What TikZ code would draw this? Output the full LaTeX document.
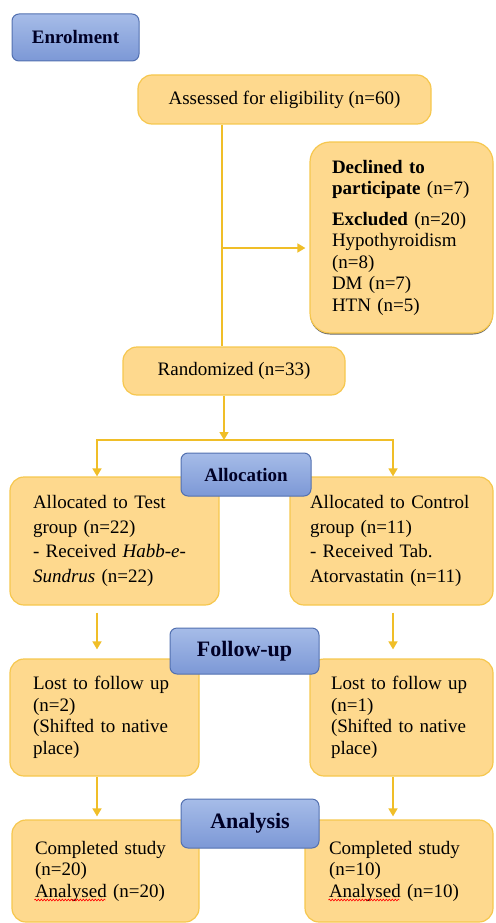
\documentclass[tikz,border=0pt]{standalone}
\usepackage{fontspec}
\setmainfont{Liberation Serif}
\usepackage{xcolor}
\usetikzlibrary{arrows.meta,shadows,decorations.pathmorphing}

\definecolor{boxfill}{RGB}{254,217,142}
\definecolor{boxline}{RGB}{246,199,78}
\definecolor{linkgold}{RGB}{240,190,40}
\definecolor{stagetop}{RGB}{166,188,232}
\definecolor{stagebot}{RGB}{124,152,214}
\definecolor{stageline}{RGB}{82,112,176}

\begin{document}
\begin{tikzpicture}[x=1pt, y=-1pt,
    panel/.style={draw=boxline, line width=1.2pt, fill=boxfill, rounded corners=14pt,
      font=\fontsize{19}{21.5}\selectfont, align=left},
    stage/.style={draw=stageline, line width=1pt, top color=stagetop, bottom color=stagebot,
      rounded corners=7pt, font=\bfseries\fontsize{19}{22}\selectfont, text=black!85!blue},
    link/.style={draw=linkgold, line width=1.5pt},
    arrow/.style={link, -{Triangle[width=9pt,length=8pt]}},
    spell/.style={draw=red, line width=0.6pt, decorate,
      decoration={snake, amplitude=0.9pt, segment length=3pt}}]
    \useasboundingbox (0, 0) rectangle (495, 923);

    % enrolment
    \node[panel, minimum width=293pt, minimum height=49pt](assess) at (284.5, 99.5)
      {Assessed for eligibility (n=60)};
    \node[panel, rounded corners=20pt, text width=139pt, inner xsep=22pt, minimum height=191pt,
      drop shadow={shadow xshift=0pt, shadow yshift=-1.5pt, fill=black!75, opacity=0.8}](excl)
      at (401.5, 237.5)
      {\textbf{Declined to}\\ \textbf{participate} (n=7)\\[9pt]
       \textbf{Excluded} (n=20)\\ Hypothyroidism\\ (n=8)\\ DM (n=7)\\ HTN (n=5)};
    \node[panel, minimum width=222pt, minimum height=48pt](rand) at (234, 371)
      {Randomized (n=33)};

    % allocation
    \node[panel, text width=163pt, inner xsep=23pt, minimum height=128pt,
      font=\fontsize{19}{24.5}\selectfont](testgrp) at (114.5, 541)
      {Allocated to Test\\ group (n=22)\\ - Received \textit{Habb-e-}\\ \textit{Sundrus} (n=22)};
    \node[panel, text width=163pt, inner xsep=20pt, minimum height=128pt,
      font=\fontsize{19}{24.5}\selectfont](ctrlgrp) at (391.5, 541)
      {Allocated to Control\\ group (n=11)\\ - Received Tab.\\ Atorvastatin (n=11)};

    % follow-up
    \node[panel, text width=143pt, inner xsep=23pt, minimum height=117pt](lostA) at (104.5, 717.5)
      {Lost to follow up\\ (n=2)\\ (Shifted to native\\ place)};
    \node[panel, text width=141pt, inner xsep=21pt, minimum height=117pt](lostB) at (401.5, 717.5)
      {Lost to follow up\\ (n=1)\\ (Shifted to native\\ place)};

    % analysis
    \node[panel, text width=141pt, inner xsep=23pt, minimum height=102pt](doneA) at (105.5, 871)
      {Completed study\\ (n=20)\\ Analysed (n=20)};
    \node[panel, text width=140pt, inner xsep=24pt, minimum height=102pt](doneB) at (399, 871)
      {Completed study\\ (n=10)\\ Analysed (n=10)};
    % spelling marks
    \draw[spell] ([xshift=23pt, yshift=-29pt]doneA.west) -- ++(71, 0);
    \draw[spell] ([xshift=24pt, yshift=-29pt]doneB.west) -- ++(71, 0);

    % stage labels
    \node[stage, minimum width=127pt, minimum height=47pt](enrol) at (75.5, 37.5){Enrolment};
    \node[stage, minimum width=130pt, minimum height=43pt](alloc) at (246, 474.5){Allocation};
    \node[stage, minimum width=149pt, minimum height=46pt,
      font=\bfseries\fontsize{22}{24}\selectfont](follow) at (244.5, 651){Follow-up};
    \node[stage, minimum width=138pt, minimum height=49pt,
      font=\bfseries\fontsize{22}{24}\selectfont](analysis) at (250, 823.5){Analysis};

    % connectors
    \coordinate (trunk) at (222, 248);
    \coordinate (fork) at (224, 440);
    \coordinate (forkL) at (97, 440);
    \coordinate (forkR) at (393, 440);
    \draw[link] (trunk |- assess.south) -- (trunk |- rand.north);
    \draw[arrow, shorten >=4pt] (trunk) -- (excl.west |- trunk);
    \draw[arrow] (fork |- rand.south) -- (fork);
    \draw[link, {Triangle[width=9pt,length=8pt]}-{Triangle[width=9pt,length=8pt]}]
      (forkL |- testgrp.north) -- (forkL) -- (forkR) -- (forkR |- ctrlgrp.north);
    \draw[arrow, shorten <=7pt, shorten >=9pt] (forkL |- testgrp.south) -- (forkL |- lostA.north);
    \draw[arrow, shorten <=7pt, shorten >=9pt] (forkR |- ctrlgrp.south) -- (forkR |- lostB.north);
    \draw[arrow, shorten >=3pt] (forkL |- lostA.south) -- (forkL |- doneA.north);
    \draw[arrow, shorten >=3pt] (forkR |- lostB.south) -- (forkR |- doneB.north);
  \end{tikzpicture}
\end{document}
